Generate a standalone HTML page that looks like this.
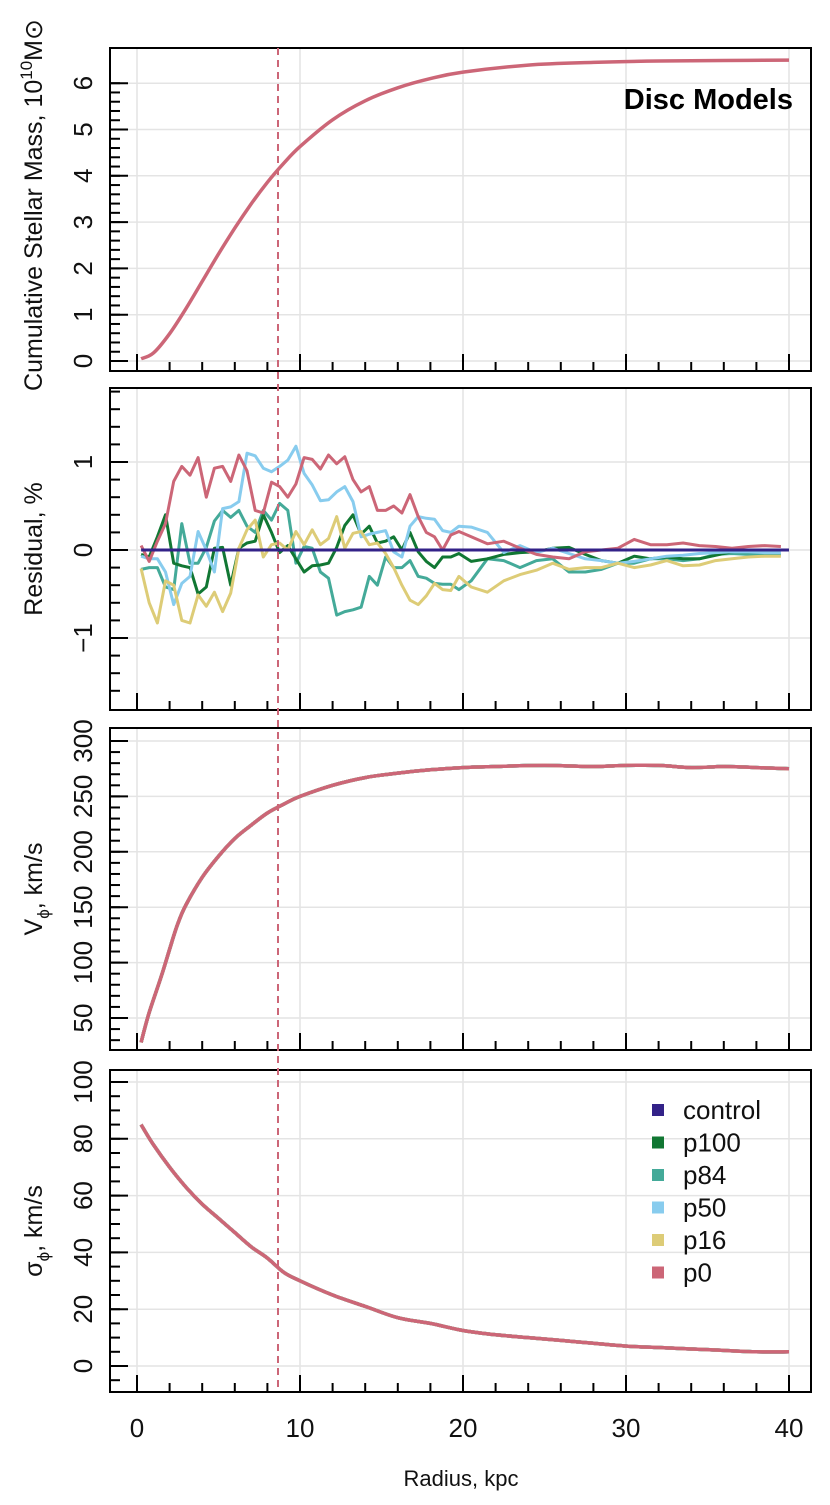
<!DOCTYPE html>
<html><head><meta charset="utf-8"><style>
body{margin:0;background:#fff}
svg{display:block;font-family:"Liberation Sans",sans-serif}
</style></head><body>
<svg id="c" width="830" height="1505" viewBox="0 0 830 1505" xmlns="http://www.w3.org/2000/svg"></svg>
<script>
// ---- data ----
const massR = [0.25,1,2,3,4,5,6,7,8,9,10,12,14,16,18,20,24,28,32,36,40];
const massV = [0.05,0.17,0.59,1.13,1.72,2.31,2.87,3.39,3.86,4.27,4.63,5.21,5.62,5.90,6.10,6.24,6.39,6.45,6.48,6.49,6.50];
const resR = [0.25,0.75,1.25,1.75,2.25,2.75,3.25,3.75,4.25,4.75,5.25,5.75,6.25,6.75,7.25,7.75,8.25,8.75,9.25,9.75,10.25,10.75,11.25,11.75,12.25,12.75,13.25,13.75,14.25,14.75,15.25,15.75,16.25,16.75,17.25,17.75,18.25,18.75,19.25,19.75,20.5,21.5,22.5,23.5,24.5,25.5,26.5,27.5,28.5,29.5,30.5,31.5,32.5,33.5,34.5,35.5,36.5,37.5,38.5,39.5];
const resControl = resR.map(()=>0);
const resP100 = [-0.05,-0.08,0.15,0.4,-0.15,-0.18,-0.2,-0.5,-0.42,0.02,0.03,-0.4,0.02,0.08,0.1,0.4,0.2,-0.03,0.05,-0.1,-0.25,-0.18,-0.17,-0.15,0.03,0.28,0.4,0.18,0.27,0.08,0.1,0.15,0.0,0.2,-0.02,-0.13,-0.2,-0.08,-0.08,-0.04,-0.13,-0.1,-0.05,-0.03,-0.02,0.02,0.03,-0.05,-0.12,-0.15,-0.07,-0.1,-0.08,-0.1,-0.1,-0.06,-0.02,0.0,0.0,0.0];
const resP84 = [-0.22,-0.2,-0.2,-0.42,-0.45,0.3,-0.15,-0.15,0.03,0.33,0.45,0.37,0.45,0.27,0.2,0.45,0.34,0.53,0.45,-0.15,0.04,0.02,-0.25,-0.32,-0.74,-0.7,-0.68,-0.65,-0.3,-0.4,-0.08,-0.2,-0.2,-0.12,-0.3,-0.32,-0.38,-0.39,-0.39,-0.45,-0.35,-0.1,-0.12,-0.2,-0.12,-0.1,-0.25,-0.25,-0.22,-0.15,-0.15,-0.1,-0.1,-0.12,-0.1,-0.05,-0.04,-0.05,-0.05,-0.05];
const resP50 = [-0.07,-0.1,-0.1,-0.25,-0.62,-0.38,-0.3,0.21,0.0,-0.25,0.47,0.49,0.55,1.1,1.07,0.93,0.89,0.95,1.02,1.18,0.87,0.74,0.56,0.57,0.66,0.72,0.55,0.15,0.18,0.2,0.22,-0.02,-0.08,0.27,0.38,0.36,0.35,0.22,0.2,0.27,0.26,0.2,-0.03,0.05,-0.03,0.02,-0.04,-0.1,-0.12,-0.15,-0.13,-0.1,-0.07,-0.06,-0.04,-0.03,-0.02,-0.02,-0.03,-0.03];
const resP16 = [-0.21,-0.6,-0.83,-0.35,-0.4,-0.8,-0.83,-0.51,-0.64,-0.48,-0.7,-0.49,0.02,0.23,0.34,-0.08,0.06,0.08,0.0,0.21,0.06,0.23,0.06,0.13,0.38,0.02,0.19,0.21,0.06,0.08,-0.04,-0.2,-0.4,-0.57,-0.62,-0.52,-0.38,-0.45,-0.46,-0.3,-0.42,-0.48,-0.35,-0.28,-0.23,-0.15,-0.22,-0.2,-0.2,-0.15,-0.2,-0.17,-0.12,-0.18,-0.17,-0.12,-0.1,-0.08,-0.07,-0.07];
const resP0 = [0.05,-0.13,0.1,0.3,0.78,0.95,0.85,1.05,0.6,0.93,0.95,0.78,1.08,0.9,0.45,0.42,0.77,0.72,0.6,0.75,1.05,1.03,0.92,1.08,0.98,1.06,0.8,0.66,0.72,0.45,0.45,0.5,0.42,0.63,0.38,0.2,0.15,0.0,0.17,0.21,0.15,0.07,0.1,0.02,-0.05,-0.08,-0.1,-0.02,0.0,0.02,0.12,0.06,0.06,0.08,0.05,0.04,0.02,0.04,0.05,0.04];
const velR = [0.25,0.75,1.5,2,2.5,3,4,5,6,7,8,9,10,12,14,16,18,20,22,25,28,30,32,34,36,38,40];
const velV = [28,55,88,112,135,152,177,196,212,224,235,243,250,260,267,271,274,276,277,278,277,278,278,276,277,276,275];
const sigR = [0.25,1,2,3,4,5,6,7,8,9,10,12,14,16,18,20,22,24,26,28,30,32,34,36,38,40];
const sigV = [85,78,70,63,57,52,47,42,38,33,30,25,21,17,15,12.5,11,10,9,8,7,6.5,6,5.5,5,5];
const seriesNames = ["control","p100","p84","p50","p16","p0"];
const seriesColors = ["#332288","#117733","#44AA99","#88CCEE","#DDCC77","#CC6677"];
const xTicks = [0,10,20,30,40];
const massTicks = [0,1,2,3,4,5,6];
const resTicks = [-1,0,1];
const velTicks = [50,100,150,200,250,300];
const sigTicks = [0,20,40,60,80,100];
const rEff = 8.65;

// ---- drawing ----
const NS="http://www.w3.org/2000/svg";
const svg=document.getElementById('c');
function mk(tag,attrs,parent){const e=document.createElementNS(NS,tag);for(const k in attrs)e.setAttribute(k,attrs[k]);(parent||svg).appendChild(e);return e;}
const L=110,R=811;
const xS=r=>137+r*16.3;
const panels=[
 {name:'mass',top:48,bot:371,y:v=>361-v*46.3,ticks:massTicks,minor:0.2,lo:-0.2,hi:6.0},
 {name:'residual',top:388,bot:710,y:v=>550-v*88,ticks:resTicks,minor:0.2,lo:-1.8,hi:1.8},
 {name:'velocity',top:728,bot:1050,y:v=>1018-(v-50)*1.108,ticks:velTicks,minor:10,lo:30,hi:310},
 {name:'dispersion',top:1070,bot:1392,y:v=>1366-v*2.84,ticks:sigTicks,minor:5,lo:-5,hi:100}
];
function path(xs,ys,yf){return xs.map((x,i)=>(i?'L':'M')+xS(x).toFixed(1)+' '+yf(ys[i]).toFixed(1)).join(' ');}
function smooth(xs,ys,yf){const P=xs.map((x,i)=>[xS(x),yf(ys[i])]);let d='M'+P[0][0].toFixed(1)+' '+P[0][1].toFixed(1);
 for(let i=0;i<P.length-1;i++){const p0=P[Math.max(0,i-1)],p1=P[i],p2=P[i+1],p3=P[Math.min(P.length-1,i+2)];
  const c1=[p1[0]+(p2[0]-p0[0])/6,p1[1]+(p2[1]-p0[1])/6],c2=[p2[0]-(p3[0]-p1[0])/6,p2[1]-(p3[1]-p1[1])/6];
  d+=` C${c1[0].toFixed(1)} ${c1[1].toFixed(1)} ${c2[0].toFixed(1)} ${c2[1].toFixed(1)} ${p2[0].toFixed(1)} ${p2[1].toFixed(1)}`;}
 return d;}
panels.forEach(p=>{
  const g=mk('g',{});
  
  
  xTicks.forEach(t=>{const l=mk('line',{x1:xS(t),x2:xS(t),y1:p.top,y2:p.bot,stroke:'#e4e4e4','stroke-width':1.5},g);
    });
  p.ticks.forEach(t=>{const y=p.y(t);const l=mk('line',{x1:L,x2:R,y1:y,y2:y,stroke:'#e4e4e4','stroke-width':1.5},g);
    
    const tx=mk('text',{x:0,y:0,transform:`translate(92,${y}) rotate(-90)`,'text-anchor':'middle','font-size':26,fill:'#111'},g);
    tx.textContent=t<0?'\u2212'+(-t):String(t);
    
    mk('line',{x1:L,x2:L+18,y1:y,y2:y,stroke:'#000','stroke-width':2},g);
  });
  for(let v=Math.ceil(p.lo/p.minor)*p.minor;v<=p.hi+1e-9;v+=p.minor){const y=p.y(v);if(y<p.top+2||y>p.bot-2)continue;
    mk('line',{x1:L,x2:L+10,y1:y,y2:y,stroke:'#000','stroke-width':2},g);}
  for(let r=0;r<=40;r+=2){const x=xS(r);mk('line',{x1:x,x2:x,y1:p.bot,y2:p.bot-(r%10===0?17:9),stroke:'#000','stroke-width':2},g);}
  p.g=g;
});
// panel 1
{const p=panels[0];
 const l=mk('path',{d:smooth(massR,massV,p.y),fill:'none',stroke:seriesColors[5],'stroke-width':3.5,'stroke-linejoin':'round'},p.g);
 
 const t=mk('text',{x:793,y:109,'text-anchor':'end','font-size':29,'font-weight':'bold',fill:'#000'},p.g);
 t.textContent='Disc Models';}
// panel 2
{const p=panels[1];const res=[resControl,resP100,resP84,resP50,resP16,resP0];
 const order=[2,1,3,4,5,0];
 order.forEach(i=>{const xs=i===0?[resR[0],40]:resR;const ys=i===0?[0,0]:res[i];
  const l=mk('path',{d:path(xs,ys,p.y),fill:'none',stroke:seriesColors[i],'stroke-width':3,'stroke-linejoin':'round'},p.g);
  });}
// panel 3,4
[[2,velR,velV,'velocity'],[3,sigR,sigV,'dispersion']].forEach(([pi,xs,ys,nm])=>{const p=panels[pi];
 seriesNames.forEach((s,i)=>{const l=mk('path',{d:smooth(xs,ys,p.y),fill:'none',stroke:seriesColors[i],'stroke-width':3.5,'stroke-linejoin':'round'},p.g);
  });});
// frames
panels.forEach(p=>{const f=mk('rect',{x:L,y:p.top,width:R-L,height:p.bot-p.top,fill:'none',stroke:'#000','stroke-width':2});
 });
// dashed line
{const d=mk('line',{x1:xS(rEff),x2:xS(rEff),y1:48,y2:1392,stroke:'#CC6677','stroke-width':2,'stroke-dasharray':'7,5'});
 }
// x tick labels
xTicks.forEach(t=>{const tx=mk('text',{x:xS(t),y:1437,'text-anchor':'middle','font-size':26,fill:'#111'});tx.textContent=String(t);
 });
{const tx=mk('text',{x:461,y:1486,'text-anchor':'middle','font-size':22,fill:'#111'});tx.textContent='Radius, kpc';
 }
// y titles
const yt=[[205,'Cumulative Stellar Mass, 10<tspan dy="-10" font-size="17">10</tspan><tspan dy="10">M</tspan>\u2299','mass'],
 [549,'Residual, %','residual'],[889,'V<tspan dy="7" font-size="17">\u03d5</tspan><tspan dy="-7">, km/s</tspan>','velocity'],
 [1231,'\u03c3<tspan dy="7" font-size="17">\u03d5</tspan><tspan dy="-7">, km/s</tspan>','dispersion']];
yt.forEach(([y,h,n])=>{const tx=mk('text',{x:0,y:0,transform:`translate(42,${y}) rotate(-90)`,'text-anchor':'middle','font-size':25,fill:'#111'});
 tx.innerHTML=h;});
// legend
seriesNames.forEach((s,i)=>{const y=1110+i*32.5;const g=mk('g',{});
 
 mk('rect',{x:652,y:y-6,width:12,height:12,fill:seriesColors[i]},g);
 const t=mk('text',{x:683,y:y+9,'font-size':26,fill:'#111'},g);t.textContent=s;});
</script>
</body></html>
